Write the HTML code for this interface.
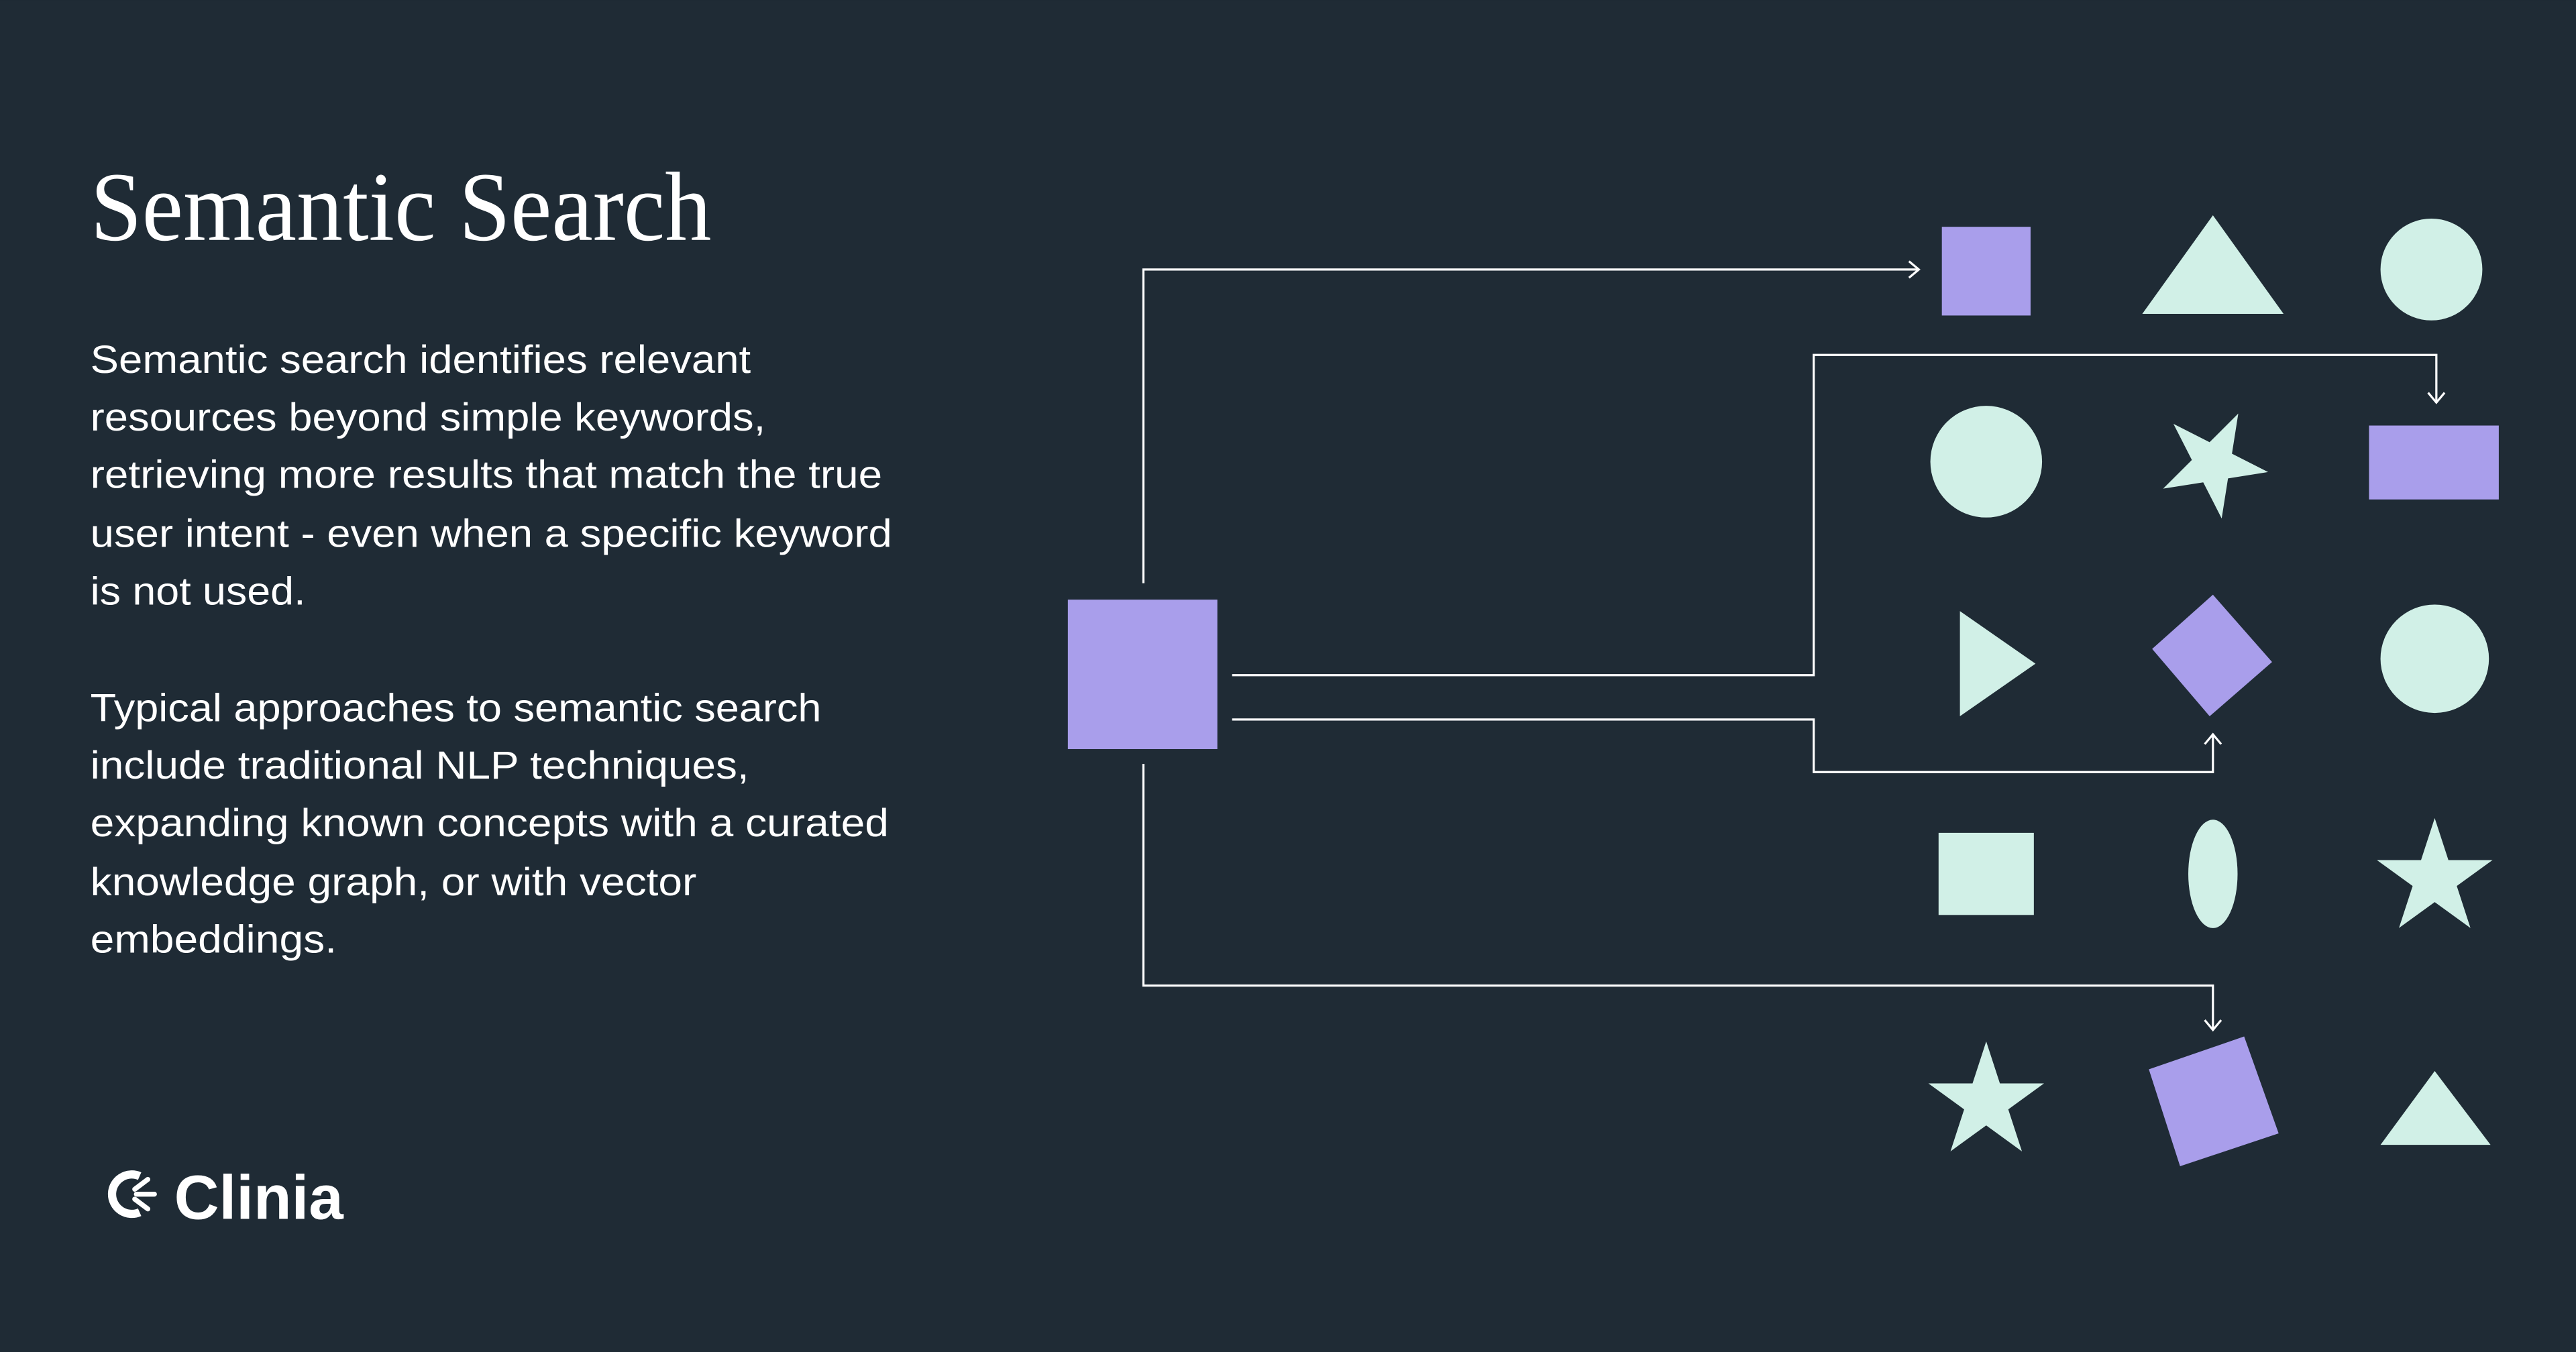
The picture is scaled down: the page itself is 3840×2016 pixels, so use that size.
<!DOCTYPE html>
<html><head><meta charset="utf-8"><style>
html,body{margin:0;padding:0;background:#1f2b35;}
svg{display:block}
</style></head><body>
<svg width="3840" height="2016" viewBox="0 0 1568 823" xmlns="http://www.w3.org/2000/svg">
<defs>
<polygon id="star" points="0,-1 0.225,-0.309 0.951,-0.309 0.363,0.118 0.588,0.809 0,0.382 -0.588,0.809 -0.363,0.118 -0.951,-0.309 -0.225,-0.309"/>
</defs>
<rect width="1568" height="823" fill="#1f2b35"/>
<g fill="#fff">
<text x="55" y="146" font-family="Liberation Serif, serif" font-size="60" textLength="378" lengthAdjust="spacingAndGlyphs">Semantic Search</text>
<g font-family="Liberation Sans, sans-serif" font-size="24">
<text x="55" y="227" textLength="402" lengthAdjust="spacingAndGlyphs">Semantic search identifies relevant</text>
<text x="55" y="262" textLength="411" lengthAdjust="spacingAndGlyphs">resources beyond simple keywords,</text>
<text x="55" y="297" textLength="482" lengthAdjust="spacingAndGlyphs">retrieving more results that match the true</text>
<text x="55" y="333" textLength="488" lengthAdjust="spacingAndGlyphs">user intent - even when a specific keyword</text>
<text x="55" y="368" textLength="131" lengthAdjust="spacingAndGlyphs">is not used.</text>
<text x="55" y="439" textLength="445" lengthAdjust="spacingAndGlyphs">Typical approaches to semantic search</text>
<text x="55" y="474" textLength="401" lengthAdjust="spacingAndGlyphs">include traditional NLP techniques,</text>
<text x="55" y="509" textLength="486" lengthAdjust="spacingAndGlyphs">expanding known concepts with a curated</text>
<text x="55" y="545" textLength="369" lengthAdjust="spacingAndGlyphs">knowledge graph, or with vector</text>
<text x="55" y="580" textLength="150" lengthAdjust="spacingAndGlyphs">embeddings.</text>
</g>
<text x="106" y="742" font-family="Liberation Sans, sans-serif" font-size="38" font-weight="bold" textLength="103" lengthAdjust="spacingAndGlyphs">Clinia</text>
</g>
<g stroke="#fff" fill="none" stroke-width="5">
<path d="M85 716 A12 12 0 1 0 85 738"/>
</g>
<g stroke="#fff" stroke-width="3" stroke-linecap="round">
<line x1="83" y1="727" x2="94" y2="727"/>
<line x1="82" y1="724" x2="90" y2="718"/>
<line x1="82" y1="730" x2="90" y2="736"/>
</g>
<g stroke="#fff" stroke-width="1.3" fill="none">
<polyline points="696,355 696,164 1168,164"/>
<polyline points="1162,159 1168,164 1162,169"/>
<polyline points="750,411 1104,411 1104,216 1483,216 1483,245"/>
<polyline points="1478,239 1483,245 1488,239"/>
<polyline points="750,438 1104,438 1104,470 1347,470 1347,447"/>
<polyline points="1342,453 1347,447 1352,453"/>
<polyline points="696,465 696,600 1347,600 1347,627"/>
<polyline points="1342,621 1347,627 1352,621"/>
</g>
<rect x="650" y="365" width="91" height="91" fill="#a99eeb"/>
<rect x="1182" y="138" width="54" height="54" fill="#a99eeb"/>
<polygon points="1347,131 1390,191 1304,191" fill="#d1f0e7"/>
<ellipse cx="1480" cy="164" rx="31" ry="31" fill="#d1f0e7"/>
<circle cx="1209" cy="281" r="34" fill="#d1f0e7"/>
<use href="#star" fill="#d1f0e7" transform="translate(1347,282) rotate(27) scale(34)"/>
<rect x="1442" y="259" width="79" height="45" fill="#a99eeb"/>
<polygon points="1193,372 1239,404 1193,436" fill="#d1f0e7"/>
<polygon points="1347,362 1383,403 1345,436 1310,395" fill="#a99eeb"/>
<ellipse cx="1482" cy="401" rx="33" ry="33" fill="#d1f0e7"/>
<rect x="1180" y="507" width="58" height="50" fill="#d1f0e7"/>
<ellipse cx="1347" cy="532" rx="15" ry="33" fill="#d1f0e7"/>
<use href="#star" fill="#d1f0e7" transform="translate(1482,535) scale(37)"/>
<use href="#star" fill="#d1f0e7" transform="translate(1209,671) scale(37)"/>
<polygon points="1308,651 1366,631 1387,690 1327,710" fill="#a99eeb"/>
<polygon points="1482,652 1516,697 1449,697" fill="#d1f0e7"/>
</svg>
</body></html>
